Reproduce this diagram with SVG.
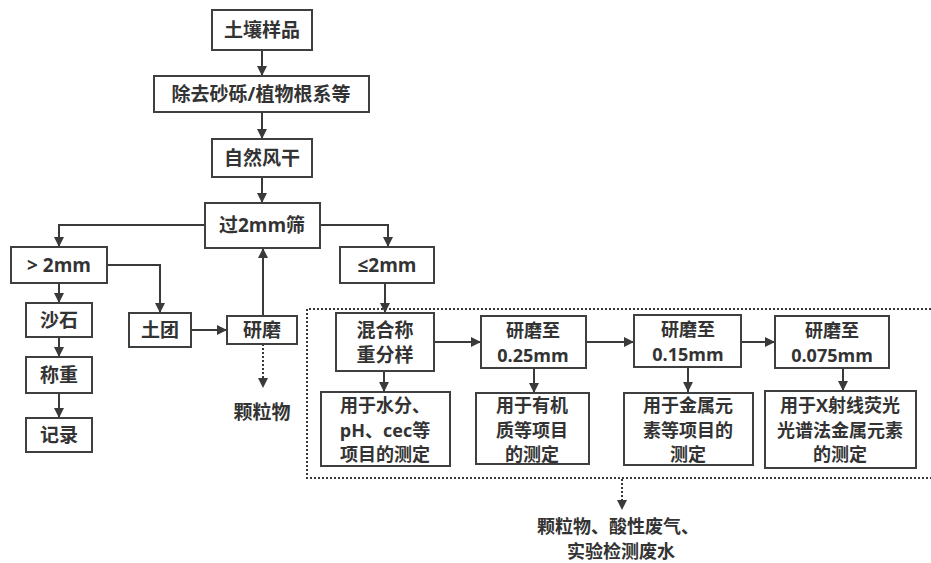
<svg xmlns="http://www.w3.org/2000/svg" width="931" height="563" viewBox="0 0 931 563">
<defs>
<marker id="ah" viewBox="0 0 10 10" refX="10" refY="5" markerWidth="10" markerHeight="10" markerUnits="userSpaceOnUse" orient="auto">
<path d="M0,0 L10,5 L0,10 Z" fill="#3a3a3a"/>
</marker>
</defs>
<style>
.b{fill:#fff;stroke:#3f3f3f;stroke-width:2}
.t{font-family:"Open Sans","Noto Sans CJK SC",sans-serif;font-weight:bold;font-size:19px;fill:#333;text-anchor:middle;dominant-baseline:central}
.s{font-size:18px}
.c{fill:none;stroke:#3a3a3a;stroke-width:2;marker-end:url(#ah)}
.d{fill:none;stroke:#3a3a3a;stroke-width:2;stroke-dasharray:2 2}
</style>
<rect width="931" height="563" fill="#fff"/>
<g id="region">
<path class="d" d="M931,309 H307 V478 H931"/>
</g>
<g id="connectors">
<path class="c" d="M262,50 V76"/>
<path class="c" d="M262,112 V139"/>
<path class="c" d="M262,177 V203"/>
<path class="c" d="M205,225 H59 V247"/>
<path class="c" d="M320,225 H388 V247"/>
<path class="c" d="M107,265 H160 V313"/>
<path class="c" d="M59,283 V303"/>
<path class="c" d="M59,337 V357"/>
<path class="c" d="M59,393 V418"/>
<path class="c" d="M191,330 H227"/>
<path class="c" d="M263,316 V248"/>
<path class="d" d="M263,344 V378"/>
<path d="M258,378 L263,388 L268,378 Z" fill="#3a3a3a"/>
<path class="c" d="M385,283 V313"/>
<path class="c" d="M434,342 H481"/>
<path class="c" d="M586,342 H634"/>
<path class="c" d="M741,342 H775"/>
<path class="c" d="M384,371 V392"/>
<path class="c" d="M534,368 V393"/>
<path class="c" d="M688,367 V392"/>
<path class="c" d="M843,368 V391"/>
<path class="d" d="M622,479 V500"/>
<path d="M617,500 L622,510 L627,500 Z" fill="#3a3a3a"/>
</g>
<g id="n1"><rect class="b" x="212" y="10" width="100" height="40"/><text class="t" x="262" y="30">土壤样品</text></g>
<g id="n2"><rect class="b" x="154" y="76" width="215" height="36"/><text class="t" x="261" y="94">除去砂砾/植物根系等</text></g>
<g id="n3"><rect class="b" x="212" y="139" width="100" height="38"/><text class="t" x="262" y="158">自然风干</text></g>
<g id="n4"><rect class="b" x="205" y="203" width="115" height="45"/><text class="t" x="262" y="225">过2mm筛</text></g>
<g id="n5"><rect class="b" x="11" y="247" width="96" height="36"/><text class="t" x="59" y="265">&gt; 2mm</text></g>
<g id="n6"><rect class="b" x="340" y="247" width="94" height="36"/><text class="t" x="387" y="265">≤2mm</text></g>
<g id="n7"><rect class="b" x="26" y="303" width="66" height="34"/><text class="t" x="59" y="320">沙石</text></g>
<g id="n8"><rect class="b" x="26" y="357" width="66" height="36"/><text class="t" x="59" y="375">称重</text></g>
<g id="n9"><rect class="b" x="26" y="418" width="66" height="34"/><text class="t" x="59" y="435">记录</text></g>
<g id="n10"><rect class="b" x="129" y="313" width="62" height="34"/><text class="t" x="160" y="330">土团</text></g>
<g id="n11"><rect class="b" x="227" y="316" width="70" height="28"/><text class="t" x="262" y="330">研磨</text></g>
<g id="n12"><text class="t" x="262" y="412">颗粒物</text></g>
<g id="n13"><rect class="b" x="336" y="313" width="98" height="58"/><text class="t" y="330"><tspan x="385">混合称</tspan><tspan x="385" dy="25">重分样</tspan></text></g>
<g id="n14"><rect class="b" x="481" y="316" width="105" height="52"/><text class="t s" y="330"><tspan x="533">研磨至</tspan><tspan x="533" dy="25">0.25mm</tspan></text></g>
<g id="n15"><rect class="b" x="634" y="315" width="107" height="52"/><text class="t s" y="329"><tspan x="688">研磨至</tspan><tspan x="688" dy="25">0.15mm</tspan></text></g>
<g id="n16"><rect class="b" x="775" y="316" width="114" height="52"/><text class="t s" y="330"><tspan x="832">研磨至</tspan><tspan x="832" dy="25">0.075mm</tspan></text></g>
<g id="n17"><rect class="b" x="321" y="392" width="129" height="74"/><text class="t s" y="405"><tspan x="385">用于水分、</tspan><tspan x="385" dy="24.5">pH、cec等</tspan><tspan x="385" dy="24.5">项目的测定</tspan></text></g>
<g id="n18"><rect class="b" x="476" y="393" width="113" height="71"/><text class="t s" y="405"><tspan x="532">用于有机</tspan><tspan x="532" dy="24.5">质等项目</tspan><tspan x="532" dy="24.5">的测定</tspan></text></g>
<g id="n19"><rect class="b" x="624" y="393" width="129" height="72"/><text class="t s" y="405"><tspan x="688">用于金属元</tspan><tspan x="688" dy="24.5">素等项目的</tspan><tspan x="688" dy="24.5">测定</tspan></text></g>
<g id="n20"><rect class="b" x="765" y="391" width="151" height="77"/><text class="t s" y="405"><tspan x="840">用于X射线荧光</tspan><tspan x="840" dy="24.5">光谱法金属元素</tspan><tspan x="840" dy="24.5">的测定</tspan></text></g>
<g id="n21"><text class="t s" y="526"><tspan x="618">颗粒物、酸性废气、</tspan><tspan x="621" dy="24.5">实验检测废水</tspan></text></g>
</svg>
